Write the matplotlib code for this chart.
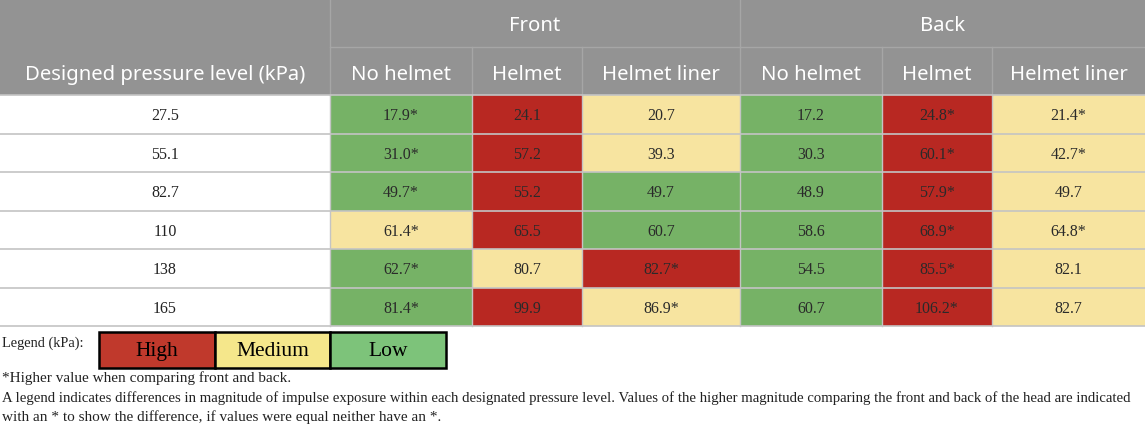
import matplotlib
matplotlib.use("Agg")
import matplotlib.pyplot as plt
from matplotlib.patches import Rectangle

# table data
pressure_levels = ["27.5", "55.1", "82.7", "110", "138", "165"]
groups = ["Front", "Back"]
conditions = ["No helmet", "Helmet", "Helmet liner"]

front_no_helmet = ["17.9*", "31.0*", "49.7*", "61.4*", "62.7*", "81.4*"]
front_helmet = ["24.1", "57.2", "55.2", "65.5", "80.7", "99.9"]
front_liner = ["20.7", "39.3", "49.7", "60.7", "82.7*", "86.9*"]
back_no_helmet = ["17.2", "30.3", "48.9", "58.6", "54.5", "60.7"]
back_helmet = ["24.8*", "60.1*", "57.9*", "68.9*", "85.5*", "106.2*"]
back_liner = ["21.4*", "42.7*", "49.7", "64.8*", "82.1", "82.7"]

# magnitude class per cell (H = high, M = medium, L = low)
front_no_helmet_lvl = ["L", "L", "L", "M", "L", "L"]
front_helmet_lvl = ["H", "H", "H", "H", "M", "H"]
front_liner_lvl = ["M", "M", "L", "L", "H", "M"]
back_no_helmet_lvl = ["L", "L", "L", "L", "L", "L"]
back_helmet_lvl = ["H", "H", "H", "H", "H", "H"]
back_liner_lvl = ["M", "M", "M", "M", "M", "M"]

legend_labels = ["High", "Medium", "Low"]

footnotes = [
    "*Higher value when comparing front and back.",
    "A legend indicates differences in magnitude of impulse exposure within each designated pressure level. "
    "Values of the higher magnitude comparing the front and back of the head are indicated",
    "with an * to show the difference, if values were equal neither have an *.",
]

columns = [front_no_helmet, front_helmet, front_liner, back_no_helmet, back_helmet, back_liner]
levels = [front_no_helmet_lvl, front_helmet_lvl, front_liner_lvl,
          back_no_helmet_lvl, back_helmet_lvl, back_liner_lvl]

cell_colors = {"H": "#b82822", "M": "#f7e4a0", "L": "#76b266"}
legend_colors = {"High": "#c0392c", "Medium": "#f5e78b", "Low": "#7dc37a"}
header_bg = "#939393"
grid_col = "#c4c4c4"
serif = "Liberation Serif"
sans = "Noto Sans"

# layout in pixel units
W, H = 1145, 427
col_edges = [0, 330, 472, 582, 740, 882, 992, 1145]
hdr1, hdr2 = 48, 96
row_h = 38.5

fig = plt.figure(figsize=(W / 100, H / 100), dpi=100)
ax = fig.add_axes([0, 0, 1, 1])
ax.set_xlim(0, W)
ax.set_ylim(H, 0)
ax.axis("off")

# header background
ax.add_patch(Rectangle((0, 0), W, hdr2, facecolor=header_bg, edgecolor="none"))
ax.plot([330, W], [hdr1, hdr1], color="#a6a6a6", lw=1)
for x in col_edges[1:-1]:
    y0 = 0 if x in (330, 740) else hdr1
    ax.plot([x, x], [y0, hdr2], color="#a6a6a6", lw=1)

hfs = 14.6
ax.text(165, 80, "Designed pressure level (kPa)", color="white", fontsize=hfs,
        family=sans, ha="center", va="baseline")
for g, name in enumerate(groups):
    x0, x1 = col_edges[1 + 3 * g], col_edges[4 + 3 * g]
    ax.text((x0 + x1) / 2, 31, name, color="white", fontsize=hfs, family=sans,
            ha="center", va="baseline")
    for c, cond in enumerate(conditions):
        a, b = col_edges[1 + 3 * g + c], col_edges[2 + 3 * g + c]
        ax.text((a + b) / 2, 80, cond, color="white", fontsize=hfs, family=sans,
                ha="center", va="baseline")

# body cells
for r, lvl_name in enumerate(pressure_levels):
    y = hdr2 + r * row_h
    ax.text(165, y + row_h / 2 + 1, lvl_name, fontsize=11.5, family=serif,
            color="#222222", ha="center", va="center")
    for c, vals in enumerate(columns):
        a, b = col_edges[c + 1], col_edges[c + 2]
        ax.add_patch(Rectangle((a, y), b - a, row_h, facecolor=cell_colors[levels[c][r]],
                               edgecolor="none"))
        ax.text((a + b) / 2, y + row_h / 2 + 1, vals[r], fontsize=11.5, family=serif,
                color="#2a2a2a", ha="center", va="center")

# grid lines in body
n = len(pressure_levels)
for r in range(n + 1):
    y = hdr2 + r * row_h
    ax.plot([0, W], [y, y], color=grid_col, lw=1.2)
for x in col_edges[1:-1]:
    ax.plot([x, x], [hdr2, hdr2 + n * row_h], color=grid_col, lw=1)

# legend
ax.text(2, 347, "Legend (kPa):", fontsize=10.4, family=serif, color="#222222",
        ha="left", va="baseline")
lx, lw_box, ly, lh = 99, 115.7, 333, 36
for i, lab in enumerate(legend_labels):
    ax.add_patch(Rectangle((lx + i * lw_box, ly), lw_box, lh, facecolor=legend_colors[lab],
                           edgecolor="black", lw=1.8))
    ax.text(lx + i * lw_box + lw_box / 2, ly + lh / 2 + 1, lab, fontsize=15.5,
            family=serif, color="black", ha="center", va="center")

# footnotes; the long line is shrunk to end where the reference line ends
renderer = fig.canvas.get_renderer()
for i, txt in enumerate(footnotes):
    t = ax.text(2, [382, 402, 421][i], txt, fontsize=11, family=serif, color="#222222",
                ha="left", va="baseline")
    if i == 1:
        w = t.get_window_extent(renderer).width
        t.set_fontsize(11 * 1120 / w)

fig.savefig("out.png", dpi=100)
